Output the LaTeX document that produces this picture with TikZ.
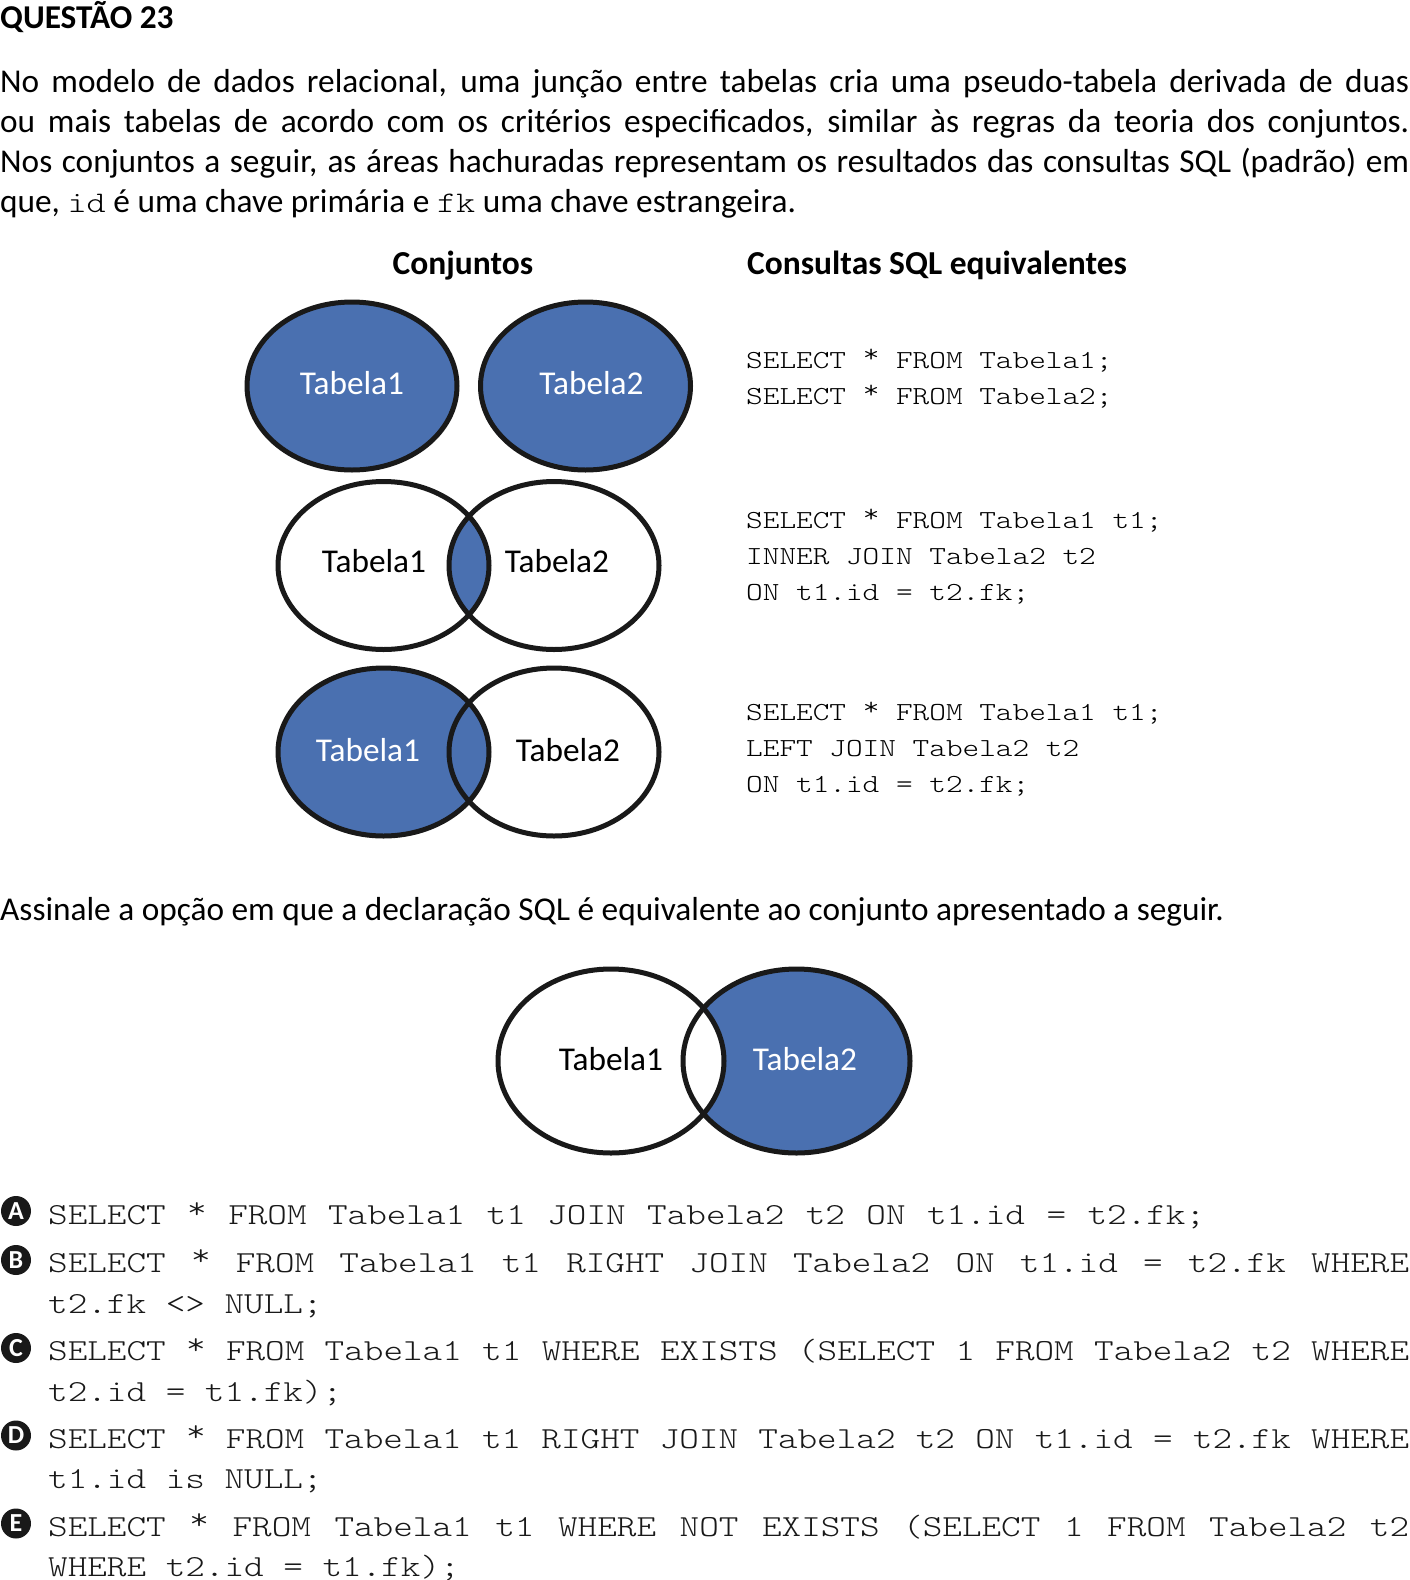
\documentclass[tikz,border=0pt]{standalone}
\usepackage{fontspec}
\setmainfont{Carlito}
\newfontfamily\courfont{Latin Modern Mono Light}[FakeStretch=1.22]
\definecolor{venn}{RGB}{74,112,176}
\definecolor{codegray}{RGB}{25,25,25}
\tikzset{
  bodytxt/.style={anchor=base west, inner sep=0pt, font=\fontsize{33.3}{40}\selectfont},
  headtxt/.style={anchor=base, inner sep=0pt, font=\bfseries\fontsize{33.5}{40}\selectfont},
  sqltxt/.style={anchor=base west, inner sep=0pt, text=black, font=\courfont\fontsize{26}{33}\selectfont},
  opttxt/.style={anchor=base west, inner sep=0pt, text=codegray, font=\courfont\fontsize{30.6}{39}\selectfont},
  setlbl/.style={inner sep=0pt, font=\fontsize{33.3}{40}\selectfont},
  vennline/.style={line width=5pt, draw=black!90},
  optmark/.style={circle, fill=black!90, text=white, inner sep=0pt, minimum size=30pt, font=\bfseries\fontsize{26}{26}\selectfont}
}
\newcommand{\jline}[2]{\makebox[#1][s]{\spaceskip=\fontcharwd\font`x plus 1fil\relax #2}}
\newcommand{\cw}[1]{{\courfont\fontsize{29.9}{36}\selectfont #1}}
\newcommand{\cstar}{\raisebox{0.2em}{*}}
\begin{document}
\begin{tikzpicture}[x=1pt,y=-1pt]
\useasboundingbox[fill=white] (0,0) rectangle (1409,1580);
% title and introduction
\node[bodytxt, font=\bfseries\fontsize{33.3}{40}\selectfont] (title) at (0,28) {QUESTÃO 23};
\node[bodytxt] (l1) at (0,92) {\makebox[1409pt][s]{No modelo de dados relacional, uma junção entre tabelas cria uma pseudo-tabela derivada de duas}};
\node[bodytxt] (l2) at (0,132) {\makebox[1409pt][s]{ou mais tabelas de acordo com os critérios especificados, similar às regras da teoria dos conjuntos.}};
\node[bodytxt] (l3) at (0,172.5) {\makebox[1409pt][s]{Nos conjuntos a seguir, as áreas hachuradas representam os resultados das consultas SQL (padrão) em}};
\node[bodytxt] (l4) at (0,212.6) {que, \cw{id} é uma chave primária e \cw{fk} uma chave estrangeira.};
% headings
\node[headtxt] (h1) at (463,274) {Conjuntos};
\node[headtxt] (h2) at (937,274) {Consultas SQL equivalentes};
% row 1
\fill[venn] (352,386) ellipse [x radius=105pt, y radius=84pt];
\fill[venn] (585.5,386) ellipse [x radius=105pt, y radius=84pt];
\draw[vennline] (352,386) ellipse [x radius=105pt, y radius=84pt];
\draw[vennline] (585.5,386) ellipse [x radius=105pt, y radius=84pt];
\node[setlbl, text=white] (r1a) at (352,383) {Tabela1};
\node[setlbl, text=white] (r1b) at (591.5,383) {Tabela2};
% row 2 (inner join)
\begin{scope}
\clip (383.5,565.5) ellipse [x radius=105.5pt, y radius=84pt];
\fill[venn] (554,565.5) ellipse [x radius=105pt, y radius=84pt];
\end{scope}
\draw[vennline] (383.5,565.5) ellipse [x radius=105.5pt, y radius=84pt];
\draw[vennline] (554,565.5) ellipse [x radius=105pt, y radius=84pt];
\node[setlbl] (r2a) at (374,561) {Tabela1};
\node[setlbl] (r2b) at (557,561) {Tabela2};
% row 3 (left join)
\fill[venn] (383.5,752) ellipse [x radius=105.5pt, y radius=84pt];
\draw[vennline] (383.5,752) ellipse [x radius=105.5pt, y radius=84pt];
\draw[vennline] (554,752) ellipse [x radius=105pt, y radius=84pt];
\node[setlbl, text=white] (r3a) at (368,750) {Tabela1};
\node[setlbl] (r3b) at (568,750) {Tabela2};
% SQL equivalents
\node[sqltxt] (q1a) at (746,368) {SELECT \cstar{} FROM Tabela1;};
\node[sqltxt] (q1b) at (746,404) {SELECT \cstar{} FROM Tabela2;};
\node[sqltxt] (q2a) at (746,528) {SELECT \cstar{} FROM Tabela1 t1;};
\node[sqltxt] (q2b) at (746,564) {INNER JOIN Tabela2 t2};
\node[sqltxt] (q2c) at (746,600) {ON t1.id = t2.fk;};
\node[sqltxt] (q3a) at (746,720.5) {SELECT \cstar{} FROM Tabela1 t1;};
\node[sqltxt] (q3b) at (746,756) {LEFT JOIN Tabela2 t2};
\node[sqltxt] (q3c) at (746,792) {ON t1.id = t2.fk;};
% question
\node[bodytxt] (ask) at (0,920) {Assinale a opção em que a declaração SQL é equivalente ao conjunto apresentado a seguir.};
% bottom diagram
\fill[venn] (796.5,1061) ellipse [x radius=113.5pt, y radius=92pt];
\begin{scope}
\clip (611,1061) ellipse [x radius=113pt, y radius=92pt];
\fill[white] (796.5,1061) ellipse [x radius=113.5pt, y radius=92pt];
\end{scope}
\draw[vennline] (611,1061) ellipse [x radius=113pt, y radius=92pt];
\draw[vennline] (796.5,1061) ellipse [x radius=113.5pt, y radius=92pt];
\node[setlbl] (bqa) at (611,1059) {Tabela1};
\node[setlbl, text=white] (bqb) at (805,1059) {Tabela2};
% options
\node[optmark] (ma) at (16,1211) {A};
\node[opttxt] (oa) at (48,1224.5) {\jline{1157pt}{SELECT \cstar{} FROM Tabela1 t1 JOIN Tabela2 t2 ON t1.id = t2.fk;}};
\node[optmark] (mb) at (16,1260) {B};
\node[opttxt] (ob1) at (48,1272) {\jline{1361pt}{SELECT \cstar{} FROM Tabela1 t1 RIGHT JOIN Tabela2 ON t1.id = t2.fk WHERE}};
\node[opttxt] (ob2) at (48,1313) {t2.fk <> NULL;};
\node[optmark] (mc) at (16,1348) {C};
\node[opttxt] (oc1) at (48,1360.5) {\jline{1361pt}{SELECT \cstar{} FROM Tabela1 t1 WHERE EXISTS (SELECT 1 FROM Tabela2 t2 WHERE}};
\node[opttxt] (oc2) at (48,1401) {t2.id = t1.fk);};
\node[optmark] (md) at (16,1435.5) {D};
\node[opttxt] (od1) at (48,1448) {\jline{1361pt}{SELECT \cstar{} FROM Tabela1 t1 RIGHT JOIN Tabela2 t2 ON t1.id = t2.fk WHERE}};
\node[opttxt] (od2) at (48,1488.5) {t1.id is NULL;};
\node[optmark] (me) at (16,1523.5) {E};
\node[opttxt] (oe1) at (48,1536) {\jline{1361pt}{SELECT \cstar{} FROM Tabela1 t1 WHERE NOT EXISTS (SELECT 1 FROM Tabela2 t2}};
\node[opttxt] (oe2) at (48,1576) {WHERE t2.id = t1.fk);};
\end{tikzpicture}
\end{document}
